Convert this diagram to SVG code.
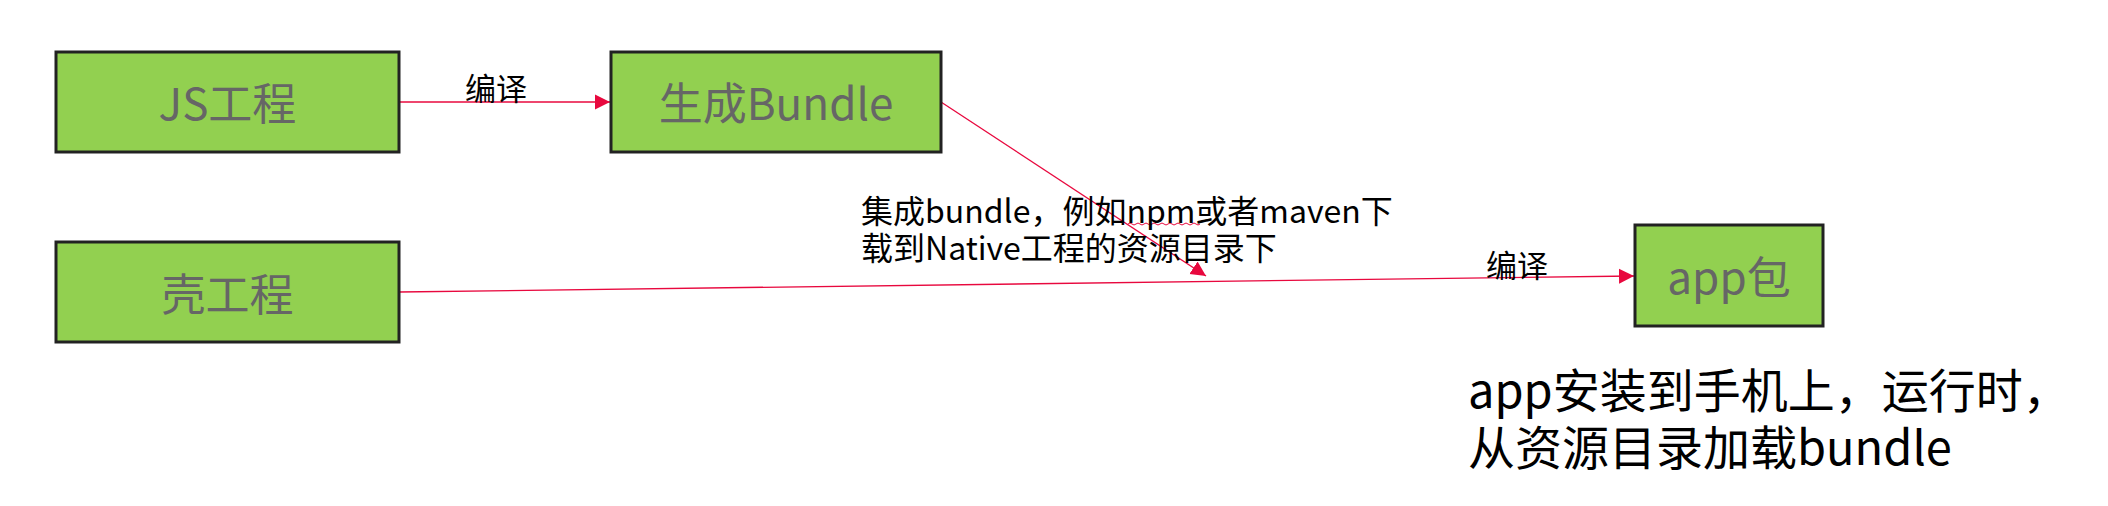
<svg xmlns="http://www.w3.org/2000/svg" width="2108" height="506" viewBox="0 0 2108 506">
<style>
.box{fill:#92D050;stroke:#222;stroke-width:3}
.bt{font-family:"Noto Sans CJK SC","Noto Sans",sans-serif;font-size:44px;fill:#666;text-anchor:middle}
.lbl{font-family:"Noto Sans CJK SC","Noto Sans",sans-serif;fill:#000}
.conn{stroke:#E8083E;stroke-width:1.3;fill:none}
</style>
<defs>
<marker id="ah" markerUnits="userSpaceOnUse" markerWidth="16" markerHeight="16" viewBox="0 0 16 16" refX="15" refY="8" orient="auto">
<path d="M0,0.5 L15,8 L0,15.5 Z" fill="#E8083E"/>
</marker>
</defs>
<g id="connectors">
<line class="conn" x1="399" y1="102" x2="610" y2="102" marker-end="url(#ah)"/>
<line class="conn" x1="941" y1="102" x2="1206" y2="276" marker-end="url(#ah)"/>
<line class="conn" x1="399" y1="292" x2="1634" y2="276" marker-end="url(#ah)"/>
<path d="M1128,224 q2,-2 4,0 t4,0 t4,0 t4,0 t4,0 t4,0 t4,0 t4,0 t4,0 t4,0 t4,0 t4,0 t4,0 t4,0 t4,0 t4,0 t4,0 t4,0" stroke="#E8083E" stroke-width="1" fill="none"/>
</g>
<g id="js">
<rect class="box" x="56" y="52" width="343" height="100"/>
<text class="bt" x="227.5" y="120">JS工程</text>
</g>
<g id="bundle">
<rect class="box" x="611" y="52" width="330" height="100"/>
<text class="bt" x="776" y="120">生成Bundle</text>
</g>
<g id="shell">
<rect class="box" x="56" y="242" width="343" height="100"/>
<text class="bt" x="227.5" y="311">壳工程</text>
</g>
<g id="app">
<rect class="box" x="1635" y="225" width="188" height="101"/>
<text class="bt" x="1729" y="294">app包</text>
</g>
<g id="labels">
<text class="lbl" x="465" y="100" font-size="31">编译</text>
<text class="lbl" x="1486" y="277" font-size="31">编译</text>
<text class="lbl" x="861" y="223" font-size="32">集成bundle，例如npm或者maven下</text>
<text class="lbl" x="861" y="260" font-size="32">载到Native工程的资源目录下</text>
<text class="lbl" x="1468" y="408" font-size="47">app安装到手机上，运行时，</text>
<text class="lbl" x="1468" y="465" font-size="47">从资源目录加载bundle</text>
</g>
</svg>
